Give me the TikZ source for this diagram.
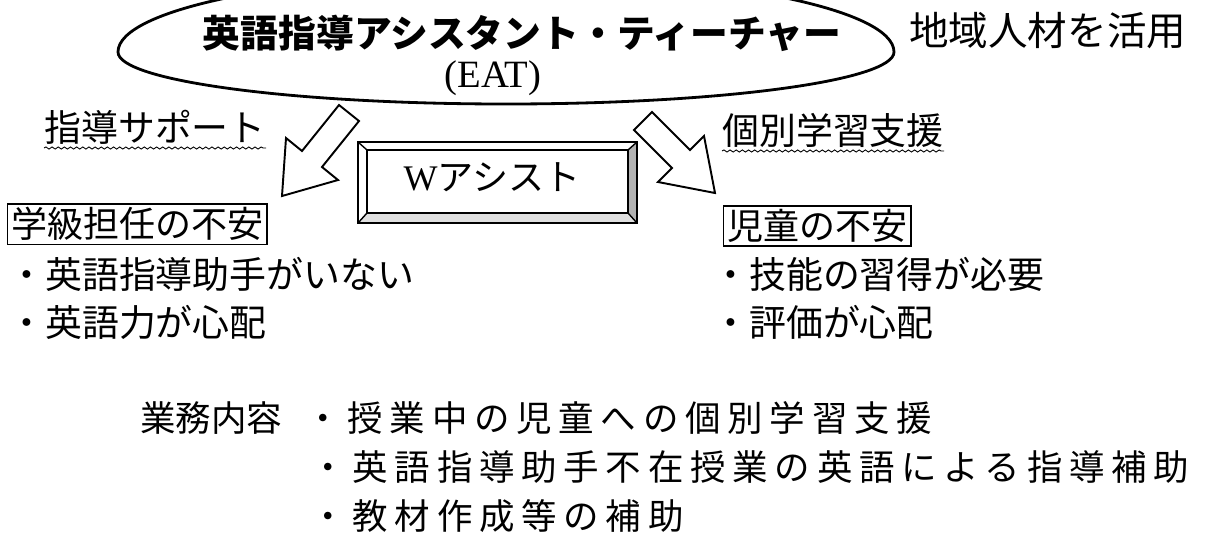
\documentclass[tikz,border=0pt]{standalone}
\usepackage{fontspec}
\setmainfont{Liberation Serif}
\newfontfamily\jp{Noto Sans CJK JP}
\newfontfamily\jpwide{Noto Sans CJK JP}[LetterSpace=19]
\usetikzlibrary{decorations.pathmorphing}

\begin{document}
\begin{tikzpicture}[x=0.02cm, y=-0.02cm,
    jtext/.style={inner sep=0pt, font=\jp\fontsize{21pt}{25pt}\selectfont},
    jwide/.style={inner sep=0pt, anchor=west, font=\jpwide\fontsize{20.2pt}{24pt}\selectfont},
    jbox/.style={draw, line width=0.8pt, inner sep=2pt, anchor=west, font=\jp\fontsize{20.5pt}{25pt}\selectfont},
    wavy/.style={line width=0.5pt, decorate, decoration={snake, amplitude=0.6pt, segment length=3.5pt}},
    blockarrow/.style={line width=1.1pt, line join=miter, fill=white}]
    \useasboundingbox (0,0) rectangle (1209,532);
    % title oval, its top is cut by the page edge
    \draw[line width=1.6pt] (118,52) arc[start angle=180, end angle=360, x radius=388, y radius=78]
        arc[start angle=0, end angle=180, x radius=388, y radius=52];
    \node[jtext, font=\jp\bfseries\fontsize{21.5pt}{26pt}\selectfont] (title) at (522,33) {英語指導アシスタント・ティーチャー};
    \node[inner sep=0pt, font=\fontsize{22pt}{26pt}\selectfont] (eat) at (493,78) {(EAT)};
    \node[jtext, anchor=west, font=\jp\fontsize{22.5pt}{26pt}\selectfont] (chiiki) at (909,31) {地域人材を活用};
    % labels with wavy underline
    \node[jtext, anchor=west] (shido) at (44,127) {指導サポート};
    \draw[wavy] ([yshift=-2pt]shido.south west) -- ([yshift=-2pt]shido.south east);
    \node[jtext, anchor=west] (kobetsu) at (722,130) {個別学習支援};
    \draw[wavy] ([yshift=-2pt]kobetsu.south west) -- ([yshift=-2pt]kobetsu.south east);
    % block arrows
    \draw[blockarrow] (339,105) -- (359,121) -- (322,167) -- (338,180) -- (282,196) -- (286,138) -- (302,151) -- cycle;
    \draw[blockarrow] (652,112) -- (690,150) -- (704,136) -- (715,193) -- (658,182) -- (672,168) -- (634,130) -- cycle;
    % bevelled box
    \fill[gray!60] (637,142) -- (637,223) -- (628,213) -- (628,150) -- cycle;
    \fill[gray!25] (358,223) -- (637,223) -- (628,213) -- (367,213) -- cycle;
    \draw[line width=1.4pt] (358,142) rectangle (637,223);
    \draw[line width=1.2pt] (367,150) rectangle (628,213);
    \draw[line width=0.8pt] (358,142) -- (367,150) (637,142) -- (628,150)
        (358,223) -- (367,213) (637,223) -- (628,213);
    \node[jtext, font=\fontsize{20.5pt}{25pt}\selectfont] (wbox) at (492,177) {W{\jp アシスト}};
    % the two worries
    \node[jbox] (gakkyu) at (7,224) {学級担任の不安};
    \node[jbox] (jido) at (723,226) {児童の不安};
    \node[jtext, anchor=west] (t1) at (8,274) {・英語指導助手がいない};
    \node[jtext, anchor=west] (t2) at (8,322) {・英語力が心配};
    \node[jtext, anchor=west] (c1) at (712,274) {・技能の習得が必要};
    \node[jtext, anchor=west] (c2) at (712,322) {・評価が心配};
    % duties
    \node[jtext, anchor=west, font=\jp\fontsize{20.2pt}{24pt}\selectfont] (gyomu) at (140,418) {業務内容};
    \node[jwide] (n1) at (305,418) {・授業中の児童への個別学習支援};
    \node[jwide] (n2) at (310,467) {・英語指導助手不在授業の英語による指導補助};
    \node[jwide] (n3) at (310,516) {・教材作成等の補助};
\end{tikzpicture}
\end{document}
